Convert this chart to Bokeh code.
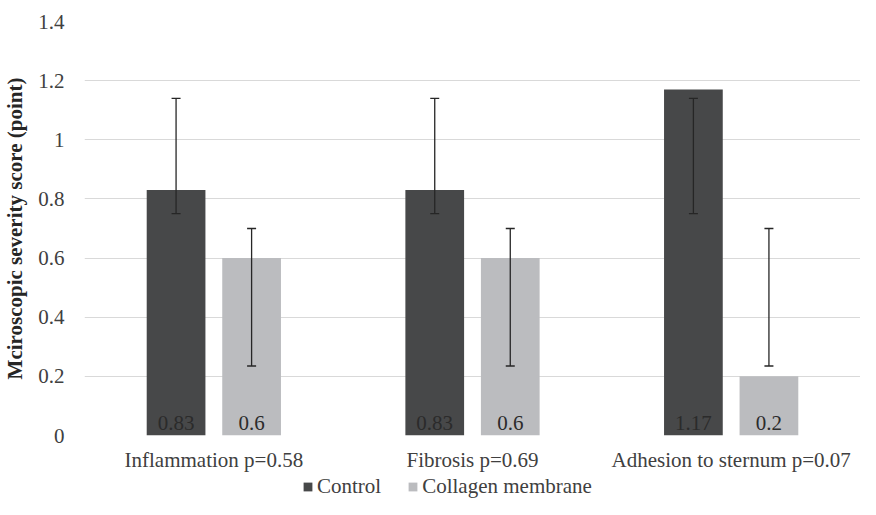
from bokeh.plotting import figure
from bokeh.layouts import column
from bokeh.models import (ColumnDataSource, FactorRange, Range1d, Whisker, TeeHead,
                          Legend, LegendItem, FixedTicker)
from bokeh.transform import dodge
from bokeh.core.properties import value
from bokeh.embed import file_html
from bokeh.resources import INLINE

# ---- data ----
categories = ["Inflammation p=0.58", "Fibrosis p=0.69", "Adhesion to sternum p=0.07"]
series_names = ["Control", "Collagen membrane"]
control_means = [0.83, 0.83, 1.17]
collagen_means = [0.6, 0.6, 0.2]
control_err_low = [0.75, 0.75, 0.75]
control_err_high = [1.14, 1.14, 1.14]
collagen_err_low = [0.235, 0.235, 0.235]
collagen_err_high = [0.70, 0.70, 0.70]
control_labels = ["0.83", "0.83", "1.17"]
collagen_labels = ["0.6", "0.6", "0.2"]
y_ticks = [0, 0.2, 0.4, 0.6, 0.8, 1.0, 1.2, 1.4]
y_tick_labels = ["0", "0.2", "0.4", "0.6", "0.8", "1", "1.2", "1.4"]
y_title = "Mciroscopic severity score (point)"

# ---- style ----
FONT = "Liberation Serif"
FS = "21px"
TXT = "#404040"
C_CTRL = "#474849"
C_COLL = "#bbbcbf"
GRID = "#d9d9d9"
BAR_W = 0.227
OFF = 0.146

src = ColumnDataSource(dict(
    cat=categories,
    ctrl=control_means, coll=collagen_means,
    ctrl_lo=control_err_low, ctrl_hi=control_err_high,
    coll_lo=collagen_err_low, coll_hi=collagen_err_high,
    ctrl_lab=control_labels, coll_lab=collagen_labels,
))

p = figure(x_range=FactorRange(*categories), y_range=Range1d(0, 1.4),
           width=860, height=474, output_backend="svg", toolbar_location=None,
           min_border_left=76, min_border_right=0, min_border_top=21,
           min_border_bottom=39)
p.outline_line_color = None
p.background_fill_color = "white"

r1 = p.vbar(x=dodge("cat", -OFF, range=p.x_range), top="ctrl", width=BAR_W,
            source=src, fill_color=C_CTRL, line_color=None)
r2 = p.vbar(x=dodge("cat", OFF, range=p.x_range), top="coll", width=BAR_W,
            source=src, fill_color=C_COLL, line_color=None)

for off, lo, hi in [(-OFF, "ctrl_lo", "ctrl_hi"), (OFF, "coll_lo", "coll_hi")]:
    w = Whisker(base=dodge("cat", off, range=p.x_range), lower=lo, upper=hi,
                source=src, line_color="#262626", line_width=1.3, level="overlay",
                upper_head=TeeHead(size=9, line_color="#262626", line_width=1.3),
                lower_head=TeeHead(size=9, line_color="#262626", line_width=1.3))
    p.add_layout(w)

for off, col in [(-OFF, "ctrl_lab"), (OFF, "coll_lab")]:
    p.text(x=dodge("cat", off, range=p.x_range), y=0, text=col, source=src,
           text_align="center", text_baseline="alphabetic", y_offset=-13,
           text_font=value(FONT), text_font_size=FS, text_color="#2b2b2b")

# axes
p.xgrid.grid_line_color = None
p.ygrid.grid_line_color = GRID
p.ygrid.grid_line_width = 1
p.yaxis.ticker = FixedTicker(ticks=y_ticks)
p.yaxis.major_label_overrides = {t: l for t, l in zip(y_ticks, y_tick_labels)}
p.yaxis.axis_label = y_title
p.yaxis.axis_label_text_font = FONT
p.yaxis.axis_label_text_font_size = FS
p.yaxis.axis_label_text_font_style = "bold"
p.yaxis.axis_label_text_color = "#262626"
p.yaxis.axis_label_standoff = 8
for ax in (p.xaxis[0], p.yaxis[0]):
    ax.axis_line_color = None
    ax.major_tick_line_color = None
    ax.minor_tick_line_color = None
    ax.major_tick_out = 0
    ax.major_tick_in = 0
    ax.major_label_text_font = FONT
    ax.major_label_text_font_size = FS
    ax.major_label_text_color = TXT
p.yaxis.major_label_standoff = 20
p.xaxis.major_label_standoff = 12

# ---- legend strip (separate small figure below the chart) ----
lg = figure(width=860, height=25, output_backend="svg", toolbar_location=None,
            x_range=Range1d(0, 1), y_range=Range1d(0, 1),
            x_axis_location=None, y_axis_location=None,
            min_border_left=0, min_border_right=0, min_border_top=0,
            min_border_bottom=0)
lg.outline_line_color = None
lg.xgrid.visible = False
lg.ygrid.visible = False
# legend-only proxies, kept outside the visible range
proxy = ColumnDataSource(dict(x=[-10], top=[-10]))
d1 = lg.vbar(x="x", top="top", width=0.1, source=proxy, fill_color=C_CTRL, line_color=None)
d2 = lg.vbar(x="x", top="top", width=0.1, source=proxy, fill_color=C_COLL, line_color=None)
legend = Legend(items=[LegendItem(label=series_names[0], renderers=[d1]),
                       LegendItem(label=series_names[1], renderers=[d2])],
                orientation="horizontal", location=(218, 0),
                border_line_color=None, background_fill_alpha=0,
                glyph_width=11, glyph_height=11, label_standoff=4, spacing=26,
                padding=0, margin=0,
                label_text_font=FONT, label_text_font_size=FS,
                label_text_color=TXT)
lg.add_layout(legend, "center")

layout = column(p, lg, spacing=0)
open("out.html", "w").write(file_html(layout, INLINE))
